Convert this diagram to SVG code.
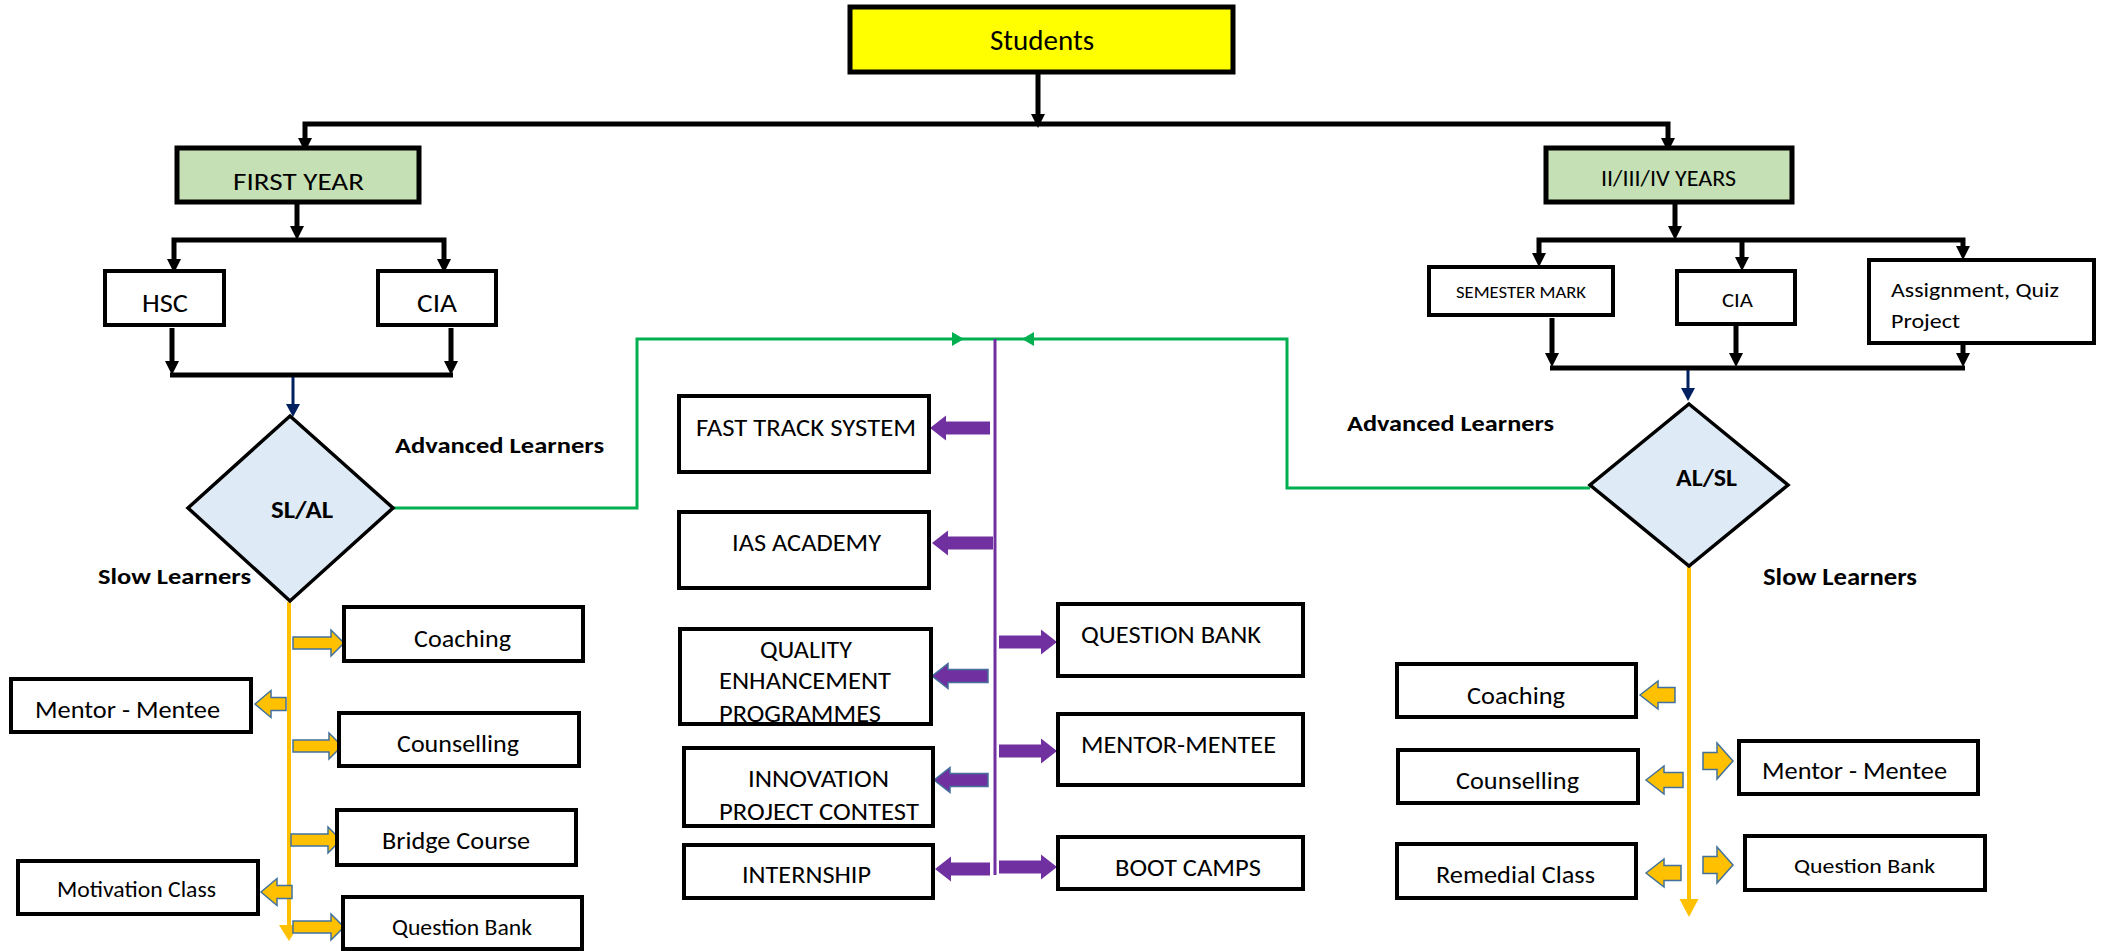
<svg xmlns="http://www.w3.org/2000/svg" width="2103" height="951" viewBox="0 0 2103 951">
<style>
text{font-family:Carlito,"Liberation Sans",Arial,sans-serif;fill:#000}
.b{font-weight:bold}
.box{fill:#fff;stroke:#000;stroke-width:4}
.top{fill:#FFFF00;stroke:#000;stroke-width:5}
.grn{fill:#C5E0B4;stroke:#000;stroke-width:5}
.dia{fill:#DEEBF7;stroke:#000;stroke-width:3.5}
.blk{fill:none;stroke:#000;stroke-width:5}
.nav{fill:none;stroke:#002060;stroke-width:3}
.gl{fill:none;stroke:#00B050;stroke-width:3}
.pl{fill:none;stroke:#7030A0;stroke-width:3}
.yl{fill:none;stroke:#FFC000;stroke-width:4}
.pa{fill:#7030A0}
.pab{fill:#7030A0;stroke:#41719C;stroke-width:1.5}
.ya{fill:#FFC000;stroke:#41719C;stroke-width:1.5}
</style>
<defs>
<marker id="ah" viewBox="0 0 14 14" refX="4" refY="7" markerWidth="14" markerHeight="14" markerUnits="userSpaceOnUse" orient="auto-start-reverse"><path d="M0,0 L14,7 L0,14 z" fill="#000"/></marker>
</defs>

<g id="connectors">
<path class="blk" d="M1038,72 V118" marker-end="url(#ah)"/>
<path class="blk" d="M305,142 V124 H1668 V142" marker-start="url(#ah)" marker-end="url(#ah)"/>
<path class="blk" d="M297,202 V230" marker-end="url(#ah)"/>
<path class="blk" d="M174,263 V240 H444 V263" marker-start="url(#ah)" marker-end="url(#ah)"/>
<path class="blk" d="M172,328 V365" marker-end="url(#ah)"/>
<path class="blk" d="M451,328 V365" marker-end="url(#ah)"/>
<path class="blk" d="M170,375 H453"/>
<path class="nav" d="M293,377 V406"/>
<polygon points="286,404 300,404 293,417" fill="#002060"/>
<path class="blk" d="M1675,202 V230" marker-end="url(#ah)"/>
<path class="blk" d="M1539,257 V240 H1963 V250" marker-start="url(#ah)" marker-end="url(#ah)"/>
<path class="blk" d="M1742,240 V261" marker-end="url(#ah)"/>
<path class="blk" d="M1552,318 V357" marker-end="url(#ah)"/>
<path class="blk" d="M1736,324 V357" marker-end="url(#ah)"/>
<path class="blk" d="M1963,343 V357" marker-end="url(#ah)"/>
<path class="blk" d="M1550,368 H1965"/>
<path class="nav" d="M1688,370 V390"/>
<polygon points="1681,388 1695,388 1688,401" fill="#002060"/>

<path class="gl" d="M393,508 H637 V339 H995"/>
<path class="gl" d="M1590,488 H1287 V339 H995"/>
<polygon points="952,332 964,339 952,346" fill="#00B050"/>
<polygon points="1034,332 1022,339 1034,346" fill="#00B050"/>

<path class="pl" d="M995,339 V875"/>
<polygon class="pa" points="930,428 946,415.5 946,421.5 990,421.5 990,434.5 946,434.5 946,440.5"/>
<polygon class="pa" points="932,543 948,530.5 948,536.5 993,536.5 993,549.5 948,549.5 948,555.5"/>
<polygon class="pab" points="932,676 948,663.5 948,669.5 988,669.5 988,682.5 948,682.5 948,688.5"/>
<polygon class="pab" points="934,780 950,767.5 950,773.5 988,773.5 988,786.5 950,786.5 950,792.5"/>
<polygon class="pa" points="935,869 951,856.5 951,862.5 990,862.5 990,875.5 951,875.5 951,881.5"/>
<polygon class="pa" points="999,635.5 1041,635.5 1041,629.5 1057,642 1041,654.5 1041,648.5 999,648.5"/>
<polygon class="pa" points="999,744.5 1041,744.5 1041,738.5 1057,751 1041,763.5 1041,757.5 999,757.5"/>
<polygon class="pa" points="999,860.5 1041,860.5 1041,854.5 1057,867 1041,879.5 1041,873.5 999,873.5"/>

<path class="yl" d="M289,602 V927"/>
<polygon points="279,925 299,925 289,941" fill="#FFC000"/>
<polygon class="ya" points="293,637 331,637 331,630 344,643 331,656 331,649 293,649"/>
<polygon class="ya" points="293,740 329,740 329,733 342,746 329,759 329,752 293,752"/>
<polygon class="ya" points="291,834 328,834 328,827 341,840 328,853 328,846 291,846"/>
<polygon class="ya" points="293,921 331,921 331,914 344,927 331,940 331,933 293,933"/>
<polygon class="ya" points="255,704 271,690.5 271,697.5 286,697.5 286,710.5 271,710.5 271,717.5"/>
<polygon class="ya" points="261,892 277,878.5 277,885.5 292,885.5 292,898.5 277,898.5 277,905.5"/>

<path class="yl" d="M1689,566 V901"/>
<polygon points="1679.5,899 1698.5,899 1689,917" fill="#FFC000"/>
<polygon class="ya" points="1640,695 1658,681 1658,687.5 1675,687.5 1675,702.5 1658,702.5 1658,709"/>
<polygon class="ya" points="1646,780 1664,766 1664,772.5 1683,772.5 1683,787.5 1664,787.5 1664,794"/>
<polygon class="ya" points="1646,873 1664,859 1664,865.5 1681,865.5 1681,880.5 1664,880.5 1664,887"/>
<polygon class="ya" points="1703,752.5 1717,752.5 1717,743 1733,761 1717,779 1717,769.5 1703,769.5"/>
<polygon class="ya" points="1703,856.5 1717,856.5 1717,847 1733,865 1717,883 1717,873.5 1703,873.5"/>
</g>

<g id="students"><rect class="top" x="850" y="7" width="383" height="65"/><text x="990" y="50" font-size="28" textLength="104" lengthAdjust="spacingAndGlyphs">Students</text></g>
<g id="first-year"><rect class="grn" x="177" y="148" width="242" height="54"/><text x="233" y="190" font-size="25" textLength="131" lengthAdjust="spacingAndGlyphs">FIRST YEAR</text></g>
<g id="hsc"><rect class="box" x="105" y="271" width="119" height="54"/><text x="142" y="312" font-size="26" textLength="46" lengthAdjust="spacingAndGlyphs">HSC</text></g>
<g id="cia-1"><rect class="box" x="378" y="271" width="118" height="54"/><text x="417" y="312" font-size="26" textLength="40" lengthAdjust="spacingAndGlyphs">CIA</text></g>
<g id="later-years"><rect class="grn" x="1546" y="148" width="246" height="54"/><text x="1601" y="186" font-size="22" textLength="135" lengthAdjust="spacingAndGlyphs">II/III/IV YEARS</text></g>
<g id="semester"><rect class="box" x="1429" y="267" width="184" height="48"/><text x="1456" y="298" font-size="17" textLength="130" lengthAdjust="spacingAndGlyphs">SEMESTER MARK</text></g>
<g id="cia-2"><rect class="box" x="1677" y="271" width="118" height="53"/><text x="1722" y="307" font-size="21" textLength="31" lengthAdjust="spacingAndGlyphs">CIA</text></g>
<g id="assignment"><rect class="box" x="1869" y="260" width="225" height="83"/><text x="1891" y="297" font-size="21" textLength="168" lengthAdjust="spacingAndGlyphs">Assignment, Quiz</text><text x="1891" y="328" font-size="21" textLength="69" lengthAdjust="spacingAndGlyphs">Project</text></g>

<g id="sl-al"><polygon class="dia" points="290,416 393,508 290,601 188,508"/><text class="b" x="271" y="518" font-size="24" textLength="62" lengthAdjust="spacingAndGlyphs">SL/AL</text></g>
<g id="al-sl"><polygon class="dia" points="1689,404 1788,485 1689,566 1590,485"/><text class="b" x="1676" y="486" font-size="24" textLength="61" lengthAdjust="spacingAndGlyphs">AL/SL</text></g>

<g id="labels">
<text class="b" x="395" y="453" font-size="23" textLength="209" lengthAdjust="spacingAndGlyphs">Advanced Learners</text>
<text class="b" x="98" y="584" font-size="23" textLength="153" lengthAdjust="spacingAndGlyphs">Slow Learners</text>
<text class="b" x="1347" y="431" font-size="23" textLength="207" lengthAdjust="spacingAndGlyphs">Advanced Learners</text>
<text class="b" x="1763" y="585" font-size="24" textLength="154" lengthAdjust="spacingAndGlyphs">Slow Learners</text>
</g>

<g id="fast-track"><rect class="box" x="679" y="396" width="250" height="76"/><text x="696" y="436" font-size="24" textLength="220" lengthAdjust="spacingAndGlyphs">FAST TRACK SYSTEM</text></g>
<g id="ias"><rect class="box" x="679" y="512" width="250" height="76"/><text x="732" y="551" font-size="24" textLength="149" lengthAdjust="spacingAndGlyphs">IAS ACADEMY</text></g>
<g id="quality"><rect class="box" x="680" y="629" width="251" height="95"/><text x="760" y="658" font-size="24" textLength="92" lengthAdjust="spacingAndGlyphs">QUALITY</text><text x="719" y="689" font-size="24" textLength="172" lengthAdjust="spacingAndGlyphs">ENHANCEMENT</text><text x="719" y="722" font-size="24" textLength="162" lengthAdjust="spacingAndGlyphs">PROGRAMMES</text></g>
<g id="innovation"><rect class="box" x="684" y="748" width="249" height="78"/><text x="748" y="787" font-size="24" textLength="141" lengthAdjust="spacingAndGlyphs">INNOVATION</text><text x="719" y="820" font-size="24" textLength="200" lengthAdjust="spacingAndGlyphs">PROJECT CONTEST</text></g>
<g id="internship"><rect class="box" x="684" y="845" width="249" height="53"/><text x="742" y="883" font-size="24" textLength="129" lengthAdjust="spacingAndGlyphs">INTERNSHIP</text></g>
<g id="question-bank-m"><rect class="box" x="1058" y="604" width="245" height="72"/><text x="1081" y="643" font-size="24" textLength="180" lengthAdjust="spacingAndGlyphs">QUESTION BANK</text></g>
<g id="mentor-m"><rect class="box" x="1058" y="714" width="245" height="71"/><text x="1081" y="753" font-size="24" textLength="195" lengthAdjust="spacingAndGlyphs">MENTOR-MENTEE</text></g>
<g id="boot-camps"><rect class="box" x="1058" y="837" width="245" height="52"/><text x="1115" y="876" font-size="24" textLength="146" lengthAdjust="spacingAndGlyphs">BOOT CAMPS</text></g>

<g id="coaching-l"><rect class="box" x="344" y="607" width="239" height="54"/><text x="414" y="647" font-size="24" textLength="97" lengthAdjust="spacingAndGlyphs">Coaching</text></g>
<g id="mentor-l"><rect class="box" x="11" y="679" width="240" height="53"/><text x="35" y="718" font-size="24" textLength="185" lengthAdjust="spacingAndGlyphs">Mentor - Mentee</text></g>
<g id="counselling-l"><rect class="box" x="339" y="713" width="240" height="53"/><text x="397" y="752" font-size="24" textLength="122" lengthAdjust="spacingAndGlyphs">Counselling</text></g>
<g id="bridge"><rect class="box" x="337" y="810" width="239" height="55"/><text x="382" y="849" font-size="24" textLength="148" lengthAdjust="spacingAndGlyphs">Bridge Course</text></g>
<g id="motivation"><rect class="box" x="18" y="861" width="240" height="53"/><text x="57" y="897" font-size="22" textLength="159" lengthAdjust="spacingAndGlyphs">Motivation Class</text></g>
<g id="question-bank-l"><rect class="box" x="343" y="897" width="239" height="52"/><text x="392" y="935" font-size="22" textLength="140" lengthAdjust="spacingAndGlyphs">Question Bank</text></g>

<g id="coaching-r"><rect class="box" x="1397" y="664" width="239" height="53"/><text x="1467" y="704" font-size="25" textLength="98" lengthAdjust="spacingAndGlyphs">Coaching</text></g>
<g id="counselling-r"><rect class="box" x="1398" y="750" width="240" height="53"/><text x="1456" y="789" font-size="25" textLength="123" lengthAdjust="spacingAndGlyphs">Counselling</text></g>
<g id="remedial"><rect class="box" x="1397" y="844" width="239" height="54"/><text x="1436" y="883" font-size="24" textLength="159" lengthAdjust="spacingAndGlyphs">Remedial Class</text></g>
<g id="mentor-r"><rect class="box" x="1739" y="741" width="239" height="53"/><text x="1762" y="779" font-size="24" textLength="185" lengthAdjust="spacingAndGlyphs">Mentor - Mentee</text></g>
<g id="question-bank-r"><rect class="box" x="1745" y="836" width="240" height="54"/><text x="1794" y="873" font-size="21" textLength="141" lengthAdjust="spacingAndGlyphs">Question Bank</text></g>
</svg>
